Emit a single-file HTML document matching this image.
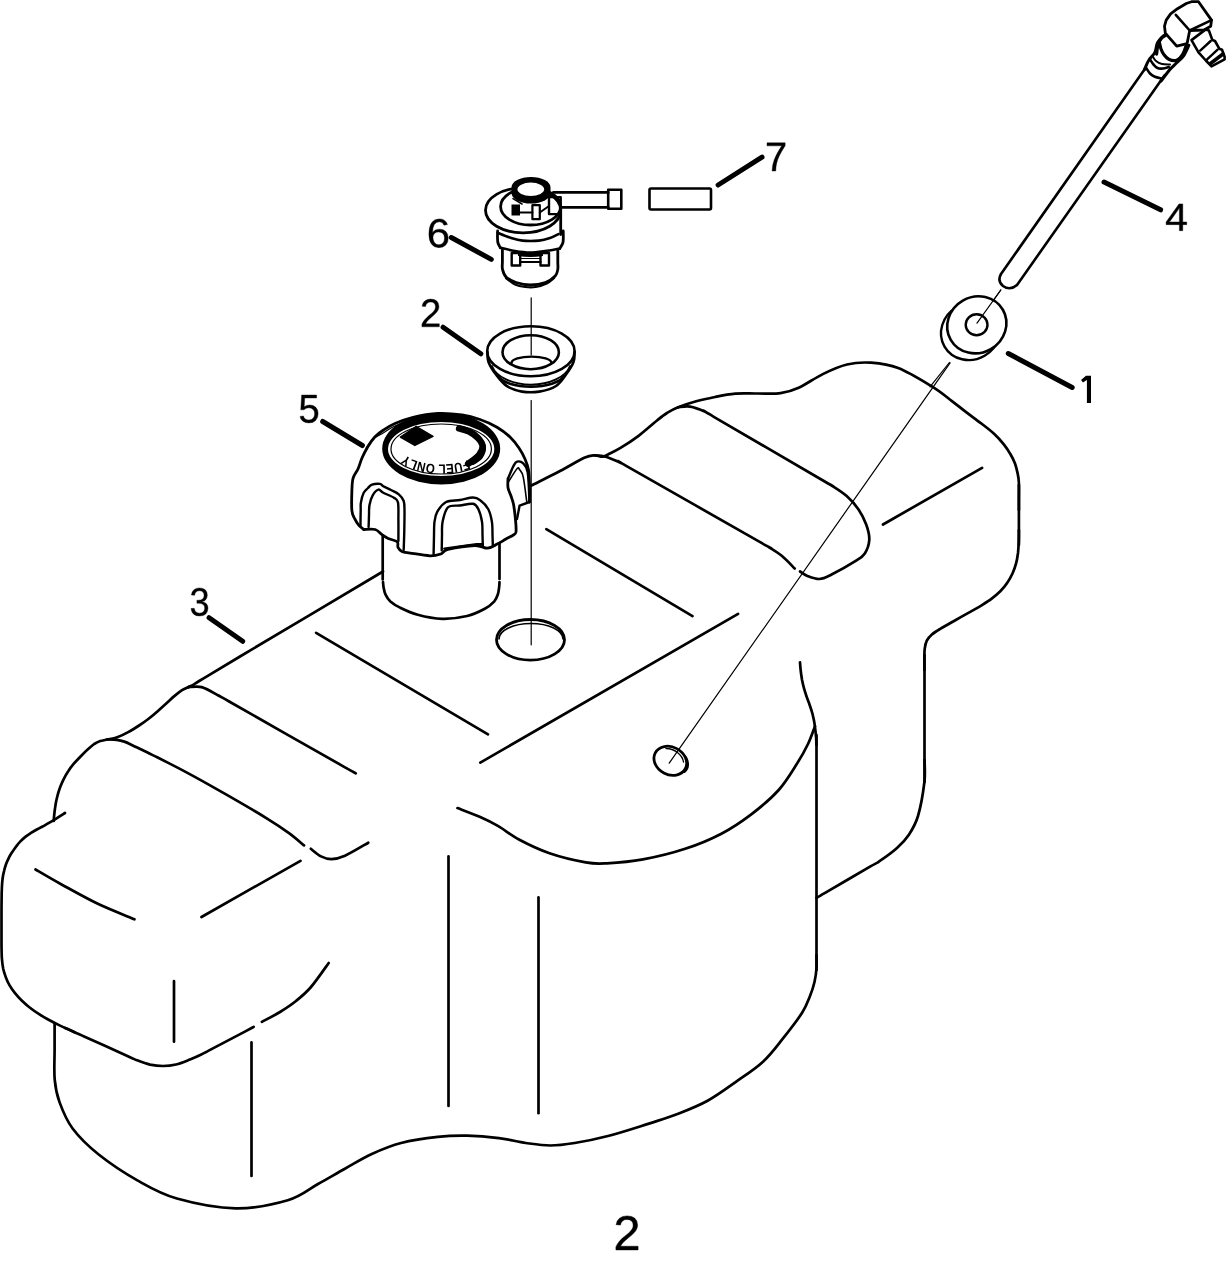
<!DOCTYPE html>
<html><head><meta charset="utf-8"><style>
html,body{margin:0;padding:0;background:#fff;width:1227px;height:1263px;overflow:hidden}
svg{position:absolute;left:0;top:0}
</style></head><body>
<svg width="1227" height="1263" viewBox="0 0 1227 1263">
<g fill="none" stroke="#000" stroke-linecap="round" stroke-linejoin="round">
<path d="M383 571.5C359.2 585.7 270.5 638.3 240 656.5C209.5 674.7 207.7 675.8 200 680.5C192.3 685.2 195.9 683.4 194 684.5C192.1 685.6 189.4 686.6 188.5 687" stroke-width="2.7"/>
<path d="M188.5 687C187.4 687.5 184.3 688.7 182 690.1C179.7 691.6 177.3 693.6 174.6 695.9C172 698.1 169.1 700.9 166.2 703.5C163.3 706.1 160.3 708.8 157.4 711.4C154.5 713.9 151.7 716.3 148.6 718.7C145.5 721.1 142.5 723.3 139.1 725.5C135.7 727.7 131.8 730.2 128.2 732.1C124.6 734.1 120.7 736 117.2 737.2C113.8 738.5 110.6 738.9 107.7 739.5C104.9 740.2 102.5 740.3 100.2 741C98 741.8 96.2 742.7 94.2 744C92.2 745.4 90.2 747.2 87.9 749.2C85.7 751.2 83.1 753.8 80.8 756.2C78.5 758.6 76 761.2 73.8 763.7C71.7 766.2 69.8 768.7 68.2 771.3C66.5 773.9 65 776.5 63.7 779.1C62.4 781.7 61.3 784.3 60.3 786.8C59.4 789.3 58.6 791.6 57.9 794.1C57.2 796.6 56.7 799 56.1 801.6C55.6 804.2 55.2 807.2 54.8 809.8C54.5 812.3 54.2 815 54 816.8C53.9 818.7 53.8 820.3 53.8 821" stroke-width="2.7"/>
<path d="M107 739.3C108.6 739.4 113.9 739.4 116.8 739.8C119.7 740.2 121.7 740.7 124.3 741.6C126.9 742.5 129 743.6 132.3 745.2C135.5 746.7 139.8 748.8 143.9 750.8C148.1 752.8 152.7 755.1 157.2 757.3C161.6 759.5 166 761.7 170.7 764.1C175.4 766.5 179.3 768.5 185.1 771.6C190.9 774.7 196.8 777.9 205.2 782.6C213.7 787.4 225.6 794.1 236 800.1C246.4 806.1 258.7 813.3 267.5 818.8C276.3 824.2 282.9 828.7 289 833.1C295.1 837.5 301.5 843.4 304 845.4" stroke-width="2.7"/>
<path d="M310.8 848.8C312.5 850.1 317.6 854.7 321 856.4C324.4 858.1 327.4 859.2 331.4 859.1C335.4 859 338.9 858.4 345 855.7C351.1 853 364.4 844.9 368.3 842.7" stroke-width="2.7"/>
<path d="M188 687.3C190.3 687.3 196.4 685.6 201.7 687.1C207 688.6 215.5 694 220 696.4C224.5 698.8 208 689.6 228.7 701.3C249.4 713.1 323.4 755 344.1 766.8C364.8 778.5 351.4 770.9 352.8 771.7" stroke-width="2.7"/>
<path d="M65 813C63.3 814.1 58.3 817.4 55 819.4C51.8 821.4 48.6 823.1 45.6 824.8C42.7 826.4 39.8 827.9 37.3 829.3C34.8 830.7 32.7 831.9 30.6 833.2C28.6 834.5 26.7 835.7 25 837.1C23.2 838.6 21.5 840.2 19.9 841.9C18.3 843.5 17 845.4 15.6 847.2C14.3 849 13 850.8 11.9 852.6C10.7 854.4 9.6 856.2 8.7 858.1C7.7 860.1 6.8 862.2 6 864.3C5.3 866.4 4.6 868.6 4.1 870.8C3.5 873.1 3.1 875 2.7 877.7C2.3 880.4 2.1 883.2 1.9 887C1.7 890.7 1.6 895.4 1.6 900C1.5 904.7 1.5 910 1.5 915C1.5 920 1.5 925 1.5 930C1.5 935 1.5 940.4 1.5 945.2C1.6 950 1.6 954.8 1.9 958.7C2.2 962.7 2.6 965.7 3.2 968.8C3.9 972 4.8 974.6 5.9 977.4C6.9 980.1 8.1 982.8 9.6 985.4C11.1 988 12.8 990.4 14.8 992.9C16.8 995.4 19.1 998 21.7 1000.5C24.3 1003 27.2 1005.7 30.3 1008C33.3 1010.4 36.8 1012.7 39.9 1014.6C43 1016.6 45.5 1018.1 48.6 1019.8C51.7 1021.5 54.2 1022.8 58.6 1024.9C63 1027 72.3 1031.1 75 1032.4" stroke-width="2.7"/>
<path d="M65 1028C66.7 1028.7 71.8 1031 75 1032.4C78.2 1033.8 75.3 1032.5 84.1 1036.5C92.9 1040.5 119.1 1052.2 127.9 1056.2C136.7 1060.2 133.3 1058.9 137 1060.3C140.7 1061.7 145.7 1063.6 150 1064.6C154.3 1065.5 158.7 1066 163 1066C167.3 1066 171.5 1065.6 176 1064.5C180.5 1063.4 185.9 1061.1 190 1059.5C194.1 1057.9 197.5 1056.4 200.8 1054.8C204.1 1053.2 202.3 1054 209.6 1050.1C217 1046.3 237.5 1035.4 244.9 1031.6C252.2 1027.7 252.2 1027.7 253.7 1026.9" stroke-width="2.7"/>
<path d="M261.9 1021.9C264.9 1020.2 274.3 1015.5 280 1012C285.7 1008.5 290.8 1005.2 296 1001C301.2 996.8 305.6 993.3 311 987C316.4 980.7 325.8 967 328.7 963" stroke-width="2.7"/>
<path d="M35.5 869.5C39.8 872 50.7 878.5 61.1 884.2C71.5 889.9 85.6 897.9 97.8 903.8C110 909.6 128.4 916.7 134.5 919.3" stroke-width="2.7"/>
<path d="M201.5 917 L300.5 860.8" stroke-width="2.7"/>
<path d="M174 981 L174 1041.7" stroke-width="2.7"/>
<path d="M54.6 1023.6C54.6 1028 54.6 1040.7 54.6 1050C54.6 1059.3 53.9 1070.9 54.7 1079.6C55.5 1088.3 56.6 1094.2 59.6 1102.4C62.6 1110.6 66.1 1119.8 72.6 1128.5C79.1 1137.2 87.8 1145.8 98.7 1154.5C109.6 1163.2 124.8 1173.3 137.8 1180.6C150.8 1187.9 160.6 1193.9 176.9 1198.5C193.2 1203.1 217.1 1208 235.6 1208.3C254.1 1208.6 274.1 1204.2 287.8 1200.2C301.5 1196.2 308.5 1189.2 318 1184C327.5 1178.8 335.9 1173.7 344.9 1168.7C353.9 1163.7 362.4 1158.3 371.8 1154C381.2 1149.7 390.1 1145.8 401.1 1143C412.1 1140.2 426.8 1138.1 437.8 1136.9C448.8 1135.7 456.9 1135.5 467.1 1135.7C477.3 1135.9 489.1 1136.9 498.9 1138.1C508.7 1139.3 517.2 1141.8 525.8 1143C534.4 1144.2 542.1 1145.5 550.3 1145.5C558.4 1145.5 564.9 1144.6 574.7 1143C584.5 1141.4 596.6 1138.9 609 1135.7C621.4 1132.5 637.4 1127.2 648.9 1123.6C660.4 1119.9 668.4 1117.6 678.2 1113.8C688 1110 697.8 1106.2 707.6 1100.8C717.4 1095.4 727.7 1087.7 736.9 1081.2C746.1 1074.7 755.4 1068.8 763 1061.7C770.6 1054.7 776.1 1047.1 782.6 1038.9C789.1 1030.8 797.5 1019.9 802.1 1012.8C806.7 1005.6 807.9 1001.1 810 996C812.1 990.9 813.4 986.7 814.5 982C815.6 977.3 816.2 972.5 816.5 968C816.8 963.5 816.5 957.2 816.5 955" stroke-width="2.7"/>
<path d="M816.5 735 L816.5 970" stroke-width="2.7"/>
<path d="M251.5 1042.4 L251.5 1176" stroke-width="2.7"/>
<path d="M448.5 856.4 L448.5 1105.9" stroke-width="2.7"/>
<path d="M538.5 897.4 L538.5 1113.2" stroke-width="2.7"/>
<path d="M457.5 808.1C461.3 809.6 473.4 814.1 480.2 817.1C487 820.1 491.8 822.4 498.3 826.2C504.8 830 510.9 835.3 519.4 839.8C527.9 844.3 538.5 849.5 549.5 853.3C560.5 857.1 576.2 860.7 585.7 862.4C595.2 864.1 597.2 863.8 606.8 863.3C616.3 862.8 629.9 861.8 643 859.4C656.1 857 672.1 853.1 685.2 848.8C698.3 844.5 710.3 839.5 721.4 833.7C732.5 827.9 742 821.4 751.6 814.1C761.2 806.8 771.1 798.5 778.7 790C786.3 781.5 792.5 770.7 797.4 763C802.3 755.3 805.1 750.1 808 744C810.9 737.9 813.8 729.2 815 726.2" stroke-width="2.7"/>
<path d="M800 662.3C800.1 663.7 800.4 667.6 800.7 670.5C801 673.4 801.5 676.7 802 679.7C802.6 682.7 803.3 685.9 804.1 688.7C804.9 691.6 805.8 694.2 806.7 696.9C807.6 699.5 808.6 702 809.5 704.5C810.4 707.1 811.3 709.6 812 712.2C812.8 714.8 813.3 717.5 813.9 720.1C814.4 722.8 814.8 725.4 815.1 728.1C815.5 730.9 815.8 733.5 816 736.3C816.3 739.1 816.4 743.6 816.5 745" stroke-width="2.7"/>
<path d="M816.5 897.8C817.9 897 816.1 898 825.1 892.8C834.2 887.5 861.8 871.5 870.9 866.2C879.9 861 875.1 864.2 879.5 861.2C883.9 858.2 892.1 852.4 897 848C901.9 843.6 905.4 840 908.9 834.7C912.4 829.4 915.4 824.8 918 816C920.6 807.2 923.3 791.3 924.4 782C925.5 772.7 924.5 763.7 924.5 760" stroke-width="2.7"/>
<path d="M924.5 782 L924.5 655" stroke-width="2.7"/>
<path d="M924.4 670C924.4 668.2 924.3 662.9 924.4 659.3C924.4 655.8 924.3 651.9 924.7 648.8C925.1 645.7 925.6 643.1 926.8 640.7C928 638.3 929.6 636.5 931.9 634.5C934.2 632.5 937.1 630.8 940.7 628.6C944.2 626.4 948.8 624 953.2 621.5C957.7 618.9 962.9 616 967.5 613.4C972.1 610.7 976.7 608.2 980.8 605.8C984.8 603.3 988.5 601.1 991.7 598.6C994.9 596.2 997.7 593.9 1000.3 591.3C1002.8 588.7 1005.1 586 1007.1 583C1009.2 580 1011 576.7 1012.5 573.5C1014 570.2 1015.1 567.1 1016 563.7C1017 560.3 1017.5 556.8 1018 553C1018.4 549.3 1018.6 544.9 1018.8 541C1018.9 537.2 1018.9 531.8 1018.9 530" stroke-width="2.7"/>
<path d="M1018.9 545 L1018.9 485" stroke-width="2.7"/>
<path d="M1018.9 510C1018.9 508.3 1018.9 504.5 1018.9 500C1018.9 495.5 1019.1 487.5 1018.9 483.1C1018.7 478.7 1018.4 476.9 1017.7 473.6C1017 470.3 1016.1 466.6 1014.9 463.3C1013.6 460 1012.1 457 1010.2 453.8C1008.4 450.6 1006.4 447.6 1003.8 444.3C1001.1 441 998 437.4 994.3 434C990.6 430.6 986.5 427.5 981.7 423.8C977 420.1 970.8 415.7 965.8 411.9C960.8 408.1 957.3 405.1 951.6 400.8C945.9 396.5 940.3 391.6 931.4 386.2C922.5 380.8 908.2 372 898.2 368.1C888.2 364.2 879.6 363.3 871.1 362.7C862.6 362.1 855 362.6 847 364.5C839 366.4 830.8 370.2 822.8 374.1C814.8 378 805.7 384.5 798.7 387.7C791.7 390.9 787.6 392.1 780.6 393.1C773.6 394.1 764.5 393.4 757 393.5C749.5 393.6 742.4 393.1 735.4 393.7C728.4 394.3 721.5 395.7 715 397C708.5 398.3 702.4 399.6 696.2 401.3C690.1 403 683 405.4 678.1 407.3C673.2 409.2 670.6 410.8 667 413C663.4 415.2 661.4 416.9 656.7 420.7C652 424.5 644.6 431.3 638.6 435.8C632.6 440.3 625.6 444.8 620.5 447.9C615.4 451 611 453 608 454.5C605 456 604.6 456.6 602.4 456.7C600.2 456.8 597.8 455.2 594.8 455.4C591.8 455.6 590.1 455.2 584.3 457.8C578.5 460.4 568.8 466.4 560 471C551.2 475.6 536.2 483.1 531.5 485.5" stroke-width="2.7"/>
<path d="M594.8 455.4C596.5 455.6 600.6 455.2 605 456.5C609.4 457.8 616.9 461.1 621 463C625.1 464.9 606.6 454.8 629.7 467.9C652.8 481.1 736.6 528.7 759.7 541.9C782.8 555 764.7 544.4 768.4 546.8C772.1 549.2 777.6 552.4 782 556C786.4 559.6 792.6 566.4 794.7 568.5" stroke-width="2.7"/>
<path d="M678.1 407.3C680.1 407.2 685.7 405.9 690.2 406.7C694.7 407.4 701.3 410.1 705.2 411.8C709.1 413.5 694.2 405.4 713.8 416.8C733.5 428.3 803.3 469 823 480.5C842.6 491.9 827.6 482.9 831.6 485.5C835.6 488.1 842.2 492.1 846.7 496.1C851.2 500.1 855.4 504.9 858.7 509.7C862 514.5 864.5 519.8 866.3 524.8C868.1 529.8 869.5 535 869.3 539.8C869 544.6 867.1 549.9 864.8 553.4C862.5 556.9 861.2 557.4 855.7 560.9C850.2 564.4 837.6 571.5 831.6 574.5C825.6 577.5 823.5 578.8 819.5 579C815.5 579.2 810.6 577.2 807.4 576C804.1 574.8 801.2 572.2 800 571.5" stroke-width="2.7"/>
<path d="M546.3 529.1 L692.5 616.1" stroke-width="2.7"/>
<path d="M480.3 762.6 L738.1 613.8" stroke-width="2.7"/>
<path d="M883 524.5 L982.1 467.8" stroke-width="2.7"/>
<path d="M316.1 632.8 L488 734.3" stroke-width="2.7"/>
<path d="M382.7 535.9 L382.7 579.4" stroke-width="2.7"/>
<path d="M383 582C383.1 582.9 383.2 585.3 383.6 587.5C384 589.6 384.5 592.5 385.7 594.8C386.8 597.1 388 599.2 390.4 601.4C392.8 603.5 395.5 605.4 400.1 607.6C404.6 609.8 410.7 612.8 417.8 614.7C424.8 616.6 434.2 618.5 442.4 618.8C450.6 619 460 617.7 467.1 616C474.1 614.4 480.3 611.2 484.8 608.8C489.3 606.4 491.9 603.9 494.1 601.6C496.2 599.2 496.9 597.1 497.7 594.7C498.6 592.4 498.8 589.6 499.1 587.5C499.4 585.4 499.4 582.9 499.5 582" stroke-width="2.7"/>
<path d="M499.5 579 L499.5 543.2" stroke-width="2.7"/>
<ellipse cx="530.5" cy="639.8" rx="34" ry="20.3" stroke-width="2.8" fill="none"/>
<path d="M499 639 A32 15.5 0 0 1 563 639" stroke-width="1.6"/>
<ellipse cx="670.3" cy="760.8" rx="17" ry="13.8" stroke-width="2.8" fill="none" transform="rotate(28 670.3 760.8)"/>
<path d="M666 748.5 A15 11.5 28 0 1 683.5 762" stroke-width="1.4"/>
<path d="M684 755 A15 12 28 0 1 684.5 772" stroke-width="2"/>
<path d="M531.2 400.6 L531.2 644.8" stroke-width="1.2"/>
<path d="M531.2 297.9 L531.2 355" stroke-width="1.2"/>
<path d="M1000.8 290 L977 323.2" stroke-width="1.2"/>
<path d="M950.1 362.8 L669.2 763.2" stroke-width="1.2"/>
<path d="M209.1 617.7 L242.7 641.3" stroke-width="5"/>
<path d="M322.7 421.5 L362.4 445.5" stroke-width="5"/>
<path d="M443.1 327.2 L480.8 353.8" stroke-width="5"/>
<path d="M451.3 237.5 L491.3 259.4" stroke-width="5"/>
<path d="M718.1 185 L762 157.2" stroke-width="5"/>
<path d="M1104 182.1 L1160.6 209.8" stroke-width="5"/>
<path d="M1008.3 353.5 L1072.2 387.5" stroke-width="5"/>
<path d="M363.7 529.5C362.9 528.8 360.4 527.2 358.9 525.4C357.4 523.6 356 521.4 354.8 518.9C353.6 516.4 352.4 515.5 351.9 510.7C351.4 505.9 351.7 495.8 351.9 490.4C352.1 485 352.1 481.7 353.1 478.1C354.1 474.5 356.5 472.4 358 469C359.5 465.6 360.4 461.7 362 458C363.6 454.3 365.7 450.2 367.8 446.7C369.9 443.2 372.2 439.8 374.8 437C377.4 434.2 380.1 432.2 383.5 430C386.9 427.8 390.2 425.6 395 423.5C399.8 421.4 405 419.2 412.2 417.5C419.4 415.8 429.7 413.9 438 413.5C446.3 413.1 455 414 462 415C469 416 474.2 417.5 480 419.5C485.8 421.5 492 424.3 497 427.2C502 430.1 506.3 433.5 510 437C513.7 440.5 516.5 444.3 519 448C521.5 451.7 523.4 455.3 525 459C526.6 462.7 527.8 465.7 528.5 470C529.2 474.3 529.3 479.7 529.5 485C529.7 490.3 529.5 499.2 529.5 502" stroke-width="2.8"/>
<path d="M366 448C367.2 446.5 370 441.6 373 439C376 436.4 380.3 434.7 384 432.5C387.7 430.3 390.3 428.1 395 426C399.7 423.9 409.3 421 412.2 420" stroke-width="1.2"/>
<path d="M508 478.7C508 480.2 507.5 484.8 508 487.7C508.5 490.6 510.1 493.3 511 496C511.9 498.7 512.7 500.6 513.4 503.8C514.1 507 514.5 510.5 515 515C515.5 519.5 516.2 527.5 516.1 530.7C516 533.9 516 532.9 514.3 534.3C512.6 535.7 508.9 537.4 506 539C503.1 540.6 500.3 542.6 497.2 544.1C494.1 545.6 491.1 548 487.4 548.2C483.7 548.4 481.4 545.3 474.8 545.5C468.2 545.7 453.6 548.1 447.9 549.5C442.2 550.9 443.8 553 440.8 554C437.8 555 435.1 555.9 430 555.8C424.9 555.6 414.9 553.8 410.2 553.1C405.5 552.4 404 552.5 402 551.5C400 550.5 398.8 549 398 547.4C397.2 545.8 398.8 543.2 397.2 541.7C395.6 540.2 390.8 539.7 388.2 538.5C385.6 537.3 383.9 535.9 381.7 534.4C379.5 532.9 378.2 530.3 375.2 529.5C372.2 528.7 365.6 529.5 363.7 529.5" stroke-width="2.8"/>
<path d="M360.5 525.4C360.5 522.8 360.6 513.8 360.7 510C360.8 506.2 360.4 505.5 360.9 502.6C361.4 499.7 362.5 495.2 363.7 492.8C364.9 490.4 366.6 489.4 368 488C369.4 486.6 369.9 485.4 371.9 484.7C373.9 484 378.1 483.6 380 483.9C381.9 484.2 381.5 485.3 383.3 486.3C385.1 487.3 388.4 488.6 391 490C393.6 491.4 396.7 492.6 398.8 494.4C400.9 496.2 402.8 498.3 403.7 501C404.6 503.7 404.4 505.9 404.5 510.7C404.6 515.5 404.4 523.5 404.3 530C404.2 536.5 403.8 546.6 403.7 549.9" stroke-width="2.4"/>
<path d="M368.6 527C368.7 525 368.9 518.7 369 515C369.1 511.3 368.9 508.3 369.5 505C370.1 501.7 371.2 497.9 372.7 495.3C374.2 492.7 376.6 490 378.4 489.6C380.2 489.2 380.7 491.5 383.3 492.8C385.9 494.1 391.4 496.1 393.9 497.7C396.3 499.3 397.2 498.9 398 502.6C398.8 506.3 398.3 513.6 398.4 520C398.5 526.4 398.4 537.4 398.4 540.9" stroke-width="2.4"/>
<path d="M433.6 554C433.7 550.8 433.9 540.4 434 535C434.1 529.6 434 525.6 434.5 521.7C435 517.9 435.3 515.2 437.2 511.9C439.1 508.6 442.3 504 446.1 502C449.9 500 455.5 500.8 460 500C464.5 499.2 469.6 497.5 473 497.5C476.4 497.5 477.6 498.2 480.2 500.2C482.8 502.1 486.4 505.6 488.3 509.2C490.2 512.8 491.2 517.4 491.9 521.7C492.6 526 492.4 531.1 492.5 535C492.6 538.9 492.8 543.3 492.8 545" stroke-width="2.4"/>
<path d="M441.7 550.4C441.8 547.8 441.9 539.8 442 535C442.1 530.2 441.6 526.3 442.6 521.7C443.6 517.1 445 510.1 447.9 507.4C450.8 504.7 455.8 506.1 460 505.5C464.2 504.9 469.9 503.2 473 503.8C476.1 504.4 476.9 506.2 478.4 509.2C479.9 512.2 481.3 517.4 482 521.7C482.7 526 482.4 530.8 482.5 535C482.6 539.2 482.8 544.8 482.9 546.8" stroke-width="2.4"/>
<path d="M444.3 548.6 L476.6 544.1 L482.9 544.1" stroke-width="2.4"/>
<path d="M508 478.7C508.9 476.6 511.9 468.9 513.4 466.1C514.9 463.3 515.4 462.1 517 461.7C518.6 461.2 521.4 461.6 523.2 463.4C525 465.2 526.7 466 527.7 472.4C528.8 478.8 529.2 497.1 529.5 502" stroke-width="2.4"/>
<path d="M508.2 482.3C509.7 480.1 515.1 470.9 517 468.8C518.9 466.7 518.6 468.4 519.6 469.7C520.6 471 522 471.5 523.2 476.9C524.4 482.3 526.2 497.8 526.8 502" stroke-width="1.6"/>
<path d="M529.5 502 L519.6 505.6 L517 519" stroke-width="2.4"/>
<path d="M382.2 448.65 A59 35.85 0 1 0 500.2 448.65 A59 35.85 0 1 0 382.2 448.65 Z M388 449 A53.15 27 0 1 0 494.3 449 A53.15 27 0 1 0 388 449 Z" fill="#000" fill-rule="evenodd" stroke="none"/>
<ellipse cx="441.2" cy="449" rx="50.2" ry="25" stroke-width="1.2" fill="none"/>
<path d="M400.4 437 L416 426.5 L433 436.3 L414.8 445.4 Z" stroke-width="1.5"/>
<path d="M400.4 437 L416 426.5 L433 436.3 L414.8 445.4 Z" fill="#000" stroke="none"/>
<path d="M459.1 428.5C460.9 429.1 466.9 430.4 470 432C473.1 433.6 475.9 435.7 478 438C480.1 440.3 482.4 443.2 482.6 446C482.8 448.8 481.4 452.1 479 455C476.6 457.9 470 462.2 468.2 463.7" stroke-width="6.5"/>
<path d="M479 438C479.8 439.5 483.7 443.8 484 447C484.3 450.2 482.8 454.3 481 457C479.2 459.7 474.3 462 473 463" stroke-width="4"/>
<ellipse cx="523.1" cy="210.3" rx="37.6" ry="22.5" stroke-width="2.8" fill="none"/>
<path d="M487 216 Q492 226 503 229" stroke-width="1.6"/>
<ellipse cx="530.6" cy="206.5" rx="30" ry="18.5" stroke-width="2.8" fill="none"/>
<path d="M511.5 187.5 A19.5 10.5 0 0 1 550.5 187.5 L550.5 193 A19.5 10.5 0 0 1 511.5 193 Z" fill="#000" stroke="none"/>
<ellipse cx="530.8" cy="189.3" rx="14.1" ry="7.5" stroke-width="1.5" fill="#fff"/>
<path d="M511.5 204.5 h8.5 v11 h-8.5 Z" fill="#000" stroke="none"/>
<path d="M532.4 205.2 h7.4 v14 h-7.4 Z" stroke-width="2.2"/>
<path d="M549 197.1 h11.7 v17 h-11.7 Z" stroke-width="2.4"/>
<path d="M520 212.5 L532.4 212.5" stroke-width="2"/>
<path d="M539.8 212.5 L549 206" stroke-width="2"/>
<path d="M513 198.6 L522 204" stroke-width="1.6"/>
<path d="M553.4 192.4 L608.2 192.4 M560.7 207.4 L608.2 207.4" stroke-width="2.8"/>
<path d="M608.2 189.8 h13.1 v18.9 h-13.1 Z" stroke-width="2.6"/>
<path d="M560.7 207.4 L560.7 234.5" stroke-width="2.8"/>
<path d="M497.8 232.8C499.8 233.6 505.9 236.2 510 237.5C514.1 238.8 517.8 240.1 522.6 240.6C527.4 241.1 534.3 241 538.9 240.6C543.5 240.2 546.8 239.1 550 238C553.2 236.9 557 234.8 558.4 234.1" stroke-width="2.6"/>
<path d="M497.6 231C497.6 232.2 497.4 236 497.5 238C497.6 240 497.5 241.4 498 243C498.5 244.6 500 247 500.4 247.8" stroke-width="2.8"/>
<path d="M563.2 231C563.2 232.2 563.4 236 563.3 238C563.2 240 563.4 241.2 562.8 243C562.2 244.8 560.3 247.6 559.8 248.5" stroke-width="2.8"/>
<path d="M518 251.5 Q530 254 543 251.5 L543 256 Q530 258 518 256 Z" fill="#000" stroke="none"/>
<path d="M511.7 253 h8.5 v12.5 h-8.5 Z M540.5 253 h8.5 v12.5 h-8.5 Z" stroke-width="2.4"/>
<path d="M520 262 L540.5 262" stroke-width="2.2"/>
<path d="M500.4 247.8C502.8 248.3 510.1 250.2 515 251C519.9 251.8 525 252.5 530 252.5C535 252.5 540 251.7 545 251C550 250.3 557.3 248.9 559.8 248.5" stroke-width="2.6"/>
<path d="M521 258.5 L539.5 258.5" stroke-width="1.2"/>
<path d="M502.4 249.8C502.4 251.8 502.4 258.8 502.4 262C502.4 265.2 501.9 266.8 502.5 269.3C503.1 271.8 504 275 506.3 277.2C508.6 279.4 512.1 281.2 516.1 282.5C520.1 283.8 525.5 285 530.4 285C535.3 285 541.3 284 545.4 282.5C549.5 281 553.1 278.2 555.2 276C557.3 273.8 557.4 271.6 557.8 269.3C558.2 267 557.8 265.2 557.8 262C557.8 258.8 557.8 251.8 557.8 249.8" stroke-width="2.8"/>
<path d="M506 278C507.5 279.1 511.8 283 515 284.5C518.2 286 521.8 286.6 525.2 287C528.6 287.4 532 287.6 535.6 287C539.2 286.4 543.6 285 546.7 283.5C549.8 282 552.8 278.9 554 278" stroke-width="2.2"/>
<ellipse cx="530.9" cy="351.2" rx="43.7" ry="25" stroke-width="2.6" fill="none"/>
<ellipse cx="530.7" cy="352.2" rx="28.2" ry="17" stroke-width="2.6" fill="none"/>
<path d="M511.5 362.9 A20 6.3 0 0 1 551.5 362.9" stroke-width="2.4"/>
<path d="M487.4 352C487.6 353.7 487.1 358.2 488.5 362C489.9 365.8 492.9 370.5 496 374.5C499.1 378.5 502.7 383.3 507 386.2C511.3 389.1 516.6 390.7 522 391.6C527.4 392.5 533.5 392.5 539.2 391.6C544.9 390.7 551.5 388.9 556 386C560.5 383.1 563.1 378.5 566 374.5C568.9 370.5 572.1 365.8 573.5 362C574.9 358.2 574.4 353.7 574.6 352" stroke-width="2.6"/>
<path d="M492 366 A40 24 0 0 0 570 366" stroke-width="1.8"/>
<path d="M498 376 A34 14 0 0 0 564 376" stroke-width="2.6"/>
<path d="M651 188.5 h58.5 q1.5 0 1.5 1.5 v18 q0 1.5 -1.5 1.5 h-58.5 q-1.5 0 -1.5 -1.5 v-18 q0 -1.5 1.5 -1.5 Z" stroke-width="2.6"/>
<ellipse cx="970.6" cy="331.5" rx="30.1" ry="28" stroke-width="2.4" fill="none" transform="rotate(-30 970.6 331.5)"/>
<ellipse cx="976.8" cy="324.8" rx="30.1" ry="28" stroke-width="2.6" fill="#fff" transform="rotate(-30 976.8 324.8)"/>
<ellipse cx="976.6" cy="324.8" rx="10.9" ry="10.5" stroke-width="2.4" fill="none"/>
<path d="M1000.8 290 L977 323.2" stroke-width="1.2"/>
<path d="M949.4 362.5 L930 386.8" stroke-width="1.2"/>
<path d="M1145 68.8 L1001 274 Q997 281 1003 286 Q1010 291 1017 285 L1164.8 75.1" stroke-width="2.6"/>
<path d="M1144.4 69.7C1145.1 68.1 1147 63.1 1148.8 60.2C1150.5 57.3 1153.5 55.2 1154.9 52.3C1156.4 49.4 1156 45.5 1157.5 42.7C1159 39.9 1162.6 36.9 1163.6 35.7" stroke-width="3"/>
<path d="M1161 81.1C1162.5 79.2 1167.1 72.8 1169.7 69.7C1172.3 66.7 1174.4 65.1 1176.7 62.8C1179 60.5 1181.6 58.7 1183.6 55.8C1185.6 52.9 1188 47 1188.9 45.3" stroke-width="3"/>
<path d="M1146.2 68C1146.8 68.9 1148.5 72 1150 73.5C1151.5 75 1152.9 75.9 1154.9 76.7C1156.9 77.5 1160.7 78.2 1161.8 78.5" stroke-width="2.6"/>
<path d="M1150.5 60.2C1151 60.9 1152.3 63.2 1153.5 64.5C1154.7 65.8 1155.9 67.3 1157.5 68C1159.1 68.7 1161.1 68.7 1163 68.5C1164.9 68.3 1167.8 67.3 1168.8 67.1" stroke-width="2.6"/>
<path d="M1152.5 56C1153.1 56.8 1154.4 59.7 1156 61C1157.6 62.3 1159.7 63.4 1162 64C1164.3 64.6 1168.7 64.4 1170 64.5" stroke-width="2"/>
<path d="M1156.6 54.1C1156.8 52.9 1157.1 49 1157.5 47C1157.9 45 1158.5 43.4 1159.2 41.8C1160 40.2 1160.8 38.6 1162 37.5C1163.2 36.4 1165.5 35.3 1166.2 34.9" stroke-width="3.2"/>
<path d="M1159.5 43C1159.8 44 1160.3 47.1 1161 49C1161.7 50.9 1162.3 52.4 1163.6 54.1C1164.9 55.8 1166.6 58.3 1168.8 59.3C1171 60.3 1174.4 61.1 1176.7 60.2C1179 59.3 1181.2 56.6 1182.8 54.1C1184.4 51.6 1185.7 46.8 1186.3 45.3" stroke-width="3.2"/>
<path d="M1165.3 33.1 L1164.5 26.2 L1166.2 20.1 L1170.6 13.9 L1177.5 8.7 L1186.3 3.5 L1191.5 1.7 L1198.5 1.7 L1211.5 20.1 L1210.7 26.2 L1204 30 L1189.7 30.5 L1187.1 43.6 L1176.7 46.2 Z" stroke-width="2.8"/>
<path d="M1175.8 14.8 L1189.7 30.5 L1211.5 20.1" stroke-width="2.6"/>
<path d="M1191.5 40.1 L1205.4 29.6 L1208.9 30.5 L1212.4 40.1 L1215 41 L1219.4 48.8 L1222 49.7 L1224.6 56.7 L1224.6 59.3 L1211.5 66.3 L1206.3 61 L1198.5 52.3 Z" stroke-width="2.6"/>
<path d="M1200.2 50.6 L1210.7 41 M1206.3 60.2 L1217.6 49.7" stroke-width="2.4"/>
<path d="M1210.5 63.5 L1223 54" stroke-width="3.6"/>

</g>
<g fill="#000" stroke="#000" stroke-width="20">
<path transform="translate(189.6 615.64) scale(0.017546 -0.019409)" d="M1049 389Q1049 194 925.0 87.0Q801 -20 571 -20Q357 -20 229.5 76.5Q102 173 78 362L264 379Q300 129 571 129Q707 129 784.5 196.0Q862 263 862 395Q862 510 773.5 574.5Q685 639 518 639H416V795H514Q662 795 743.5 859.5Q825 924 825 1038Q825 1151 758.5 1216.5Q692 1282 561 1282Q442 1282 368.5 1221.0Q295 1160 283 1049L102 1063Q122 1236 245.5 1333.0Q369 1430 563 1430Q775 1430 892.5 1331.5Q1010 1233 1010 1057Q1010 922 934.5 837.5Q859 753 715 723V719Q873 702 961.0 613.0Q1049 524 1049 389Z"/>
<path transform="translate(298.47 422.54) scale(0.018686 -0.019546)" d="M1053 459Q1053 236 920.5 108.0Q788 -20 553 -20Q356 -20 235.0 66.0Q114 152 82 315L264 336Q321 127 557 127Q702 127 784.0 214.5Q866 302 866 455Q866 588 783.5 670.0Q701 752 561 752Q488 752 425.0 729.0Q362 706 299 651H123L170 1409H971V1256H334L307 809Q424 899 598 899Q806 899 929.5 777.0Q1053 655 1053 459Z"/>
<path transform="translate(419.99 326.8) scale(0.018677 -0.019375)" d="M103 0V127Q154 244 227.5 333.5Q301 423 382.0 495.5Q463 568 542.5 630.0Q622 692 686.0 754.0Q750 816 789.5 884.0Q829 952 829 1038Q829 1154 761.0 1218.0Q693 1282 572 1282Q457 1282 382.5 1219.5Q308 1157 295 1044L111 1061Q131 1230 254.5 1330.0Q378 1430 572 1430Q785 1430 899.5 1329.5Q1014 1229 1014 1044Q1014 962 976.5 881.0Q939 800 865.0 719.0Q791 638 582 468Q467 374 399.0 298.5Q331 223 301 153H1036V0Z"/>
<path transform="translate(426.76 247.23) scale(0.020478 -0.019824)" d="M1049 461Q1049 238 928.0 109.0Q807 -20 594 -20Q356 -20 230.0 157.0Q104 334 104 672Q104 1038 235.0 1234.0Q366 1430 608 1430Q927 1430 1010 1143L838 1112Q785 1284 606 1284Q452 1284 367.5 1140.5Q283 997 283 725Q332 816 421.0 863.5Q510 911 625 911Q820 911 934.5 789.0Q1049 667 1049 461ZM866 453Q866 606 791.0 689.0Q716 772 582 772Q456 772 378.5 698.5Q301 625 301 496Q301 333 381.5 229.0Q462 125 588 125Q718 125 792.0 212.5Q866 300 866 453Z"/>
<path transform="translate(764.97 171) scale(0.019474 -0.020015)" d="M1036 1263Q820 933 731.0 746.0Q642 559 597.5 377.0Q553 195 553 0H365Q365 270 479.5 568.5Q594 867 862 1256H105V1409H1036Z"/>
<path transform="translate(1165.16 230.7) scale(0.019989 -0.019019)" d="M881 319V0H711V319H47V459L692 1409H881V461H1079V319ZM711 1206Q709 1200 683.0 1153.0Q657 1106 644 1087L283 555L229 481L213 461H711Z"/>
<path transform="translate(613.46 1249.9) scale(0.023784 -0.023784)" d="M103 0V127Q154 244 227.5 333.5Q301 423 382.0 495.5Q463 568 542.5 630.0Q622 692 686.0 754.0Q750 816 789.5 884.0Q829 952 829 1038Q829 1154 761.0 1218.0Q693 1282 572 1282Q457 1282 382.5 1219.5Q308 1157 295 1044L111 1061Q131 1230 254.5 1330.0Q378 1430 572 1430Q785 1430 899.5 1329.5Q1014 1229 1014 1044Q1014 962 976.5 881.0Q939 800 865.0 719.0Q791 638 582 468Q467 374 399.0 298.5Q331 223 301 153H1036V0Z"/>
</g>
<path d="M1086.9 375.7 H1091 V403 H1086.9 Z M1086 375.7 L1087.5 375.7 L1087.5 379.5 L1083 382.5 L1081 380 Z" fill="#000"/>
<g fill="#000">
<path transform="translate(468.25 459.94) rotate(162.40) scale(0.00566 -0.00659)" d="M432 1181V745H1153V517H432V0H137V1409H1176V1181Z"/>
<path transform="translate(461.51 462.09) rotate(169.15) scale(0.00566 -0.00659)" d="M723 -20Q432 -20 277.5 122.0Q123 264 123 528V1409H418V551Q418 384 497.5 297.5Q577 211 731 211Q889 211 974.0 301.5Q1059 392 1059 561V1409H1354V543Q1354 275 1188.5 127.5Q1023 -20 723 -20Z"/>
<path transform="translate(453.30 463.68) rotate(174.73) scale(0.00566 -0.00659)" d="M137 0V1409H1245V1181H432V827H1184V599H432V228H1286V0Z"/>
<path transform="translate(445.61 464.39) rotate(179.35) scale(0.00566 -0.00659)" d="M137 0V1409H432V228H1188V0Z"/>
<path transform="translate(435.33 464.33) rotate(-173.63) scale(0.00566 -0.00659)" d="M1507 711Q1507 491 1420.0 324.0Q1333 157 1171.0 68.5Q1009 -20 793 -20Q461 -20 272.5 175.5Q84 371 84 711Q84 1050 272.0 1240.0Q460 1430 795 1430Q1130 1430 1318.5 1238.0Q1507 1046 1507 711ZM1206 711Q1206 939 1098.0 1068.5Q990 1198 795 1198Q597 1198 489.0 1069.5Q381 941 381 711Q381 479 491.5 345.5Q602 212 793 212Q991 212 1098.5 342.0Q1206 472 1206 711Z"/>
<path transform="translate(426.36 463.32) rotate(-167.30) scale(0.00566 -0.00659)" d="M995 0 381 1085Q399 927 399 831V0H137V1409H474L1097 315Q1079 466 1079 590V1409H1341V0Z"/>
<path transform="translate(418.21 461.47) rotate(-159.83) scale(0.00566 -0.00659)" d="M137 0V1409H432V228H1188V0Z"/>
<path transform="translate(411.57 459.02) rotate(-148.58) scale(0.00566 -0.00659)" d="M831 578V0H537V578L35 1409H344L682 813L1024 1409H1333Z"/>
</g>

</svg>
</body></html>
